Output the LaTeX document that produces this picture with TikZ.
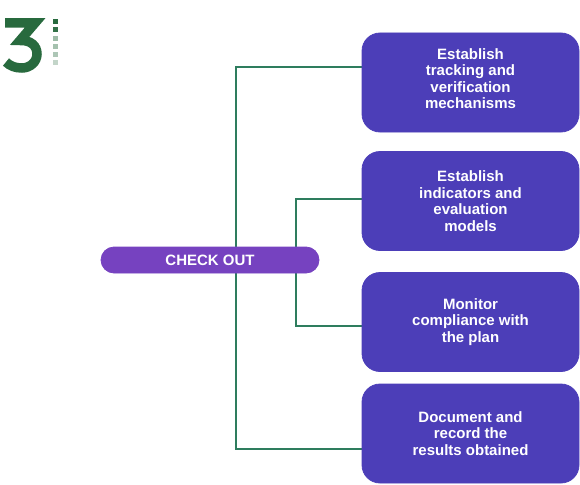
\documentclass[tikz,border=0pt]{standalone}
\usepackage{fontspec}
\setmainfont{Liberation Sans}
\usepackage{xcolor}
\usetikzlibrary{backgrounds}

\definecolor{stepblue}{RGB}{76,62,184}
\definecolor{pillpurple}{RGB}{118,66,192}
\definecolor{linkgreen}{RGB}{46,125,94}
\definecolor{logogreen}{RGB}{40,106,62}

\begin{document}
\begin{tikzpicture}[
				x=1pt, y=-1pt,
				thick,
				stepbox/.style = {draw=stepblue, fill=stepblue, rounded corners=18pt,
					minimum width=217pt, minimum height=99pt, text=white, align=center,
					font=\bfseries\fontsize{15}{16.5}\selectfont, inner sep=0pt},
				pill/.style = {draw=pillpurple, fill=pillpurple, rounded corners=13pt,
					minimum width=218pt, minimum height=26pt, text=white,
					font=\bfseries\fontsize{15}{16}\selectfont, inner sep=0pt},
				link/.style = {draw=linkgreen, line width=2.2pt}
				]
				\useasboundingbox (0,0) rectangle (580,484);
				
				% logo
				\draw[logogreen, line width=9.5pt, line join=miter]
					(5,23) -- (35,23) -- (20,40.5)
					.. controls (31,40) and (37,46) .. (37,54)
					.. controls (37,62) and (30,68) .. (22,68)
					.. controls (15,68) and (10,66) .. (6,62);
				\foreach \y/\shade in {22/100, 30/95, 39/45, 47/42, 55/38, 63/28}
					\fill[logogreen!\shade!white] (52.5,\y-2.5) rectangle ++(5,5);
				
				\node[pill] (check) at (210,260) {CHECK OUT};
				\node[stepbox] (track) at (470.5,82.5) {Establish\\tracking and\\verification\\mechanisms\vphantom{\rule[-8pt]{0pt}{8pt}}};
				\node[stepbox] (indic) at (470.5,201) {Establish\\indicators and\\evaluation\\models};
				\node[stepbox] (monit) at (470.5,322) {Monitor\\compliance with\\the plan};
				\node[stepbox] (docum) at (470.5,433.5) {Document and\\record the\\results obtained};
				
				\coordinate (trunk) at (236,260);
				\coordinate (branch) at (296,260);
				
				\begin{scope}[on background layer]
					\draw[link] ([yshift=15.5pt]track.west) -| (trunk) |- ([yshift=-15.5pt]docum.west);
					\draw[link] ([yshift=2pt]indic.west) -| (branch) |- ([yshift=-4pt]monit.west);
				\end{scope}
			\end{tikzpicture}
\end{document}
